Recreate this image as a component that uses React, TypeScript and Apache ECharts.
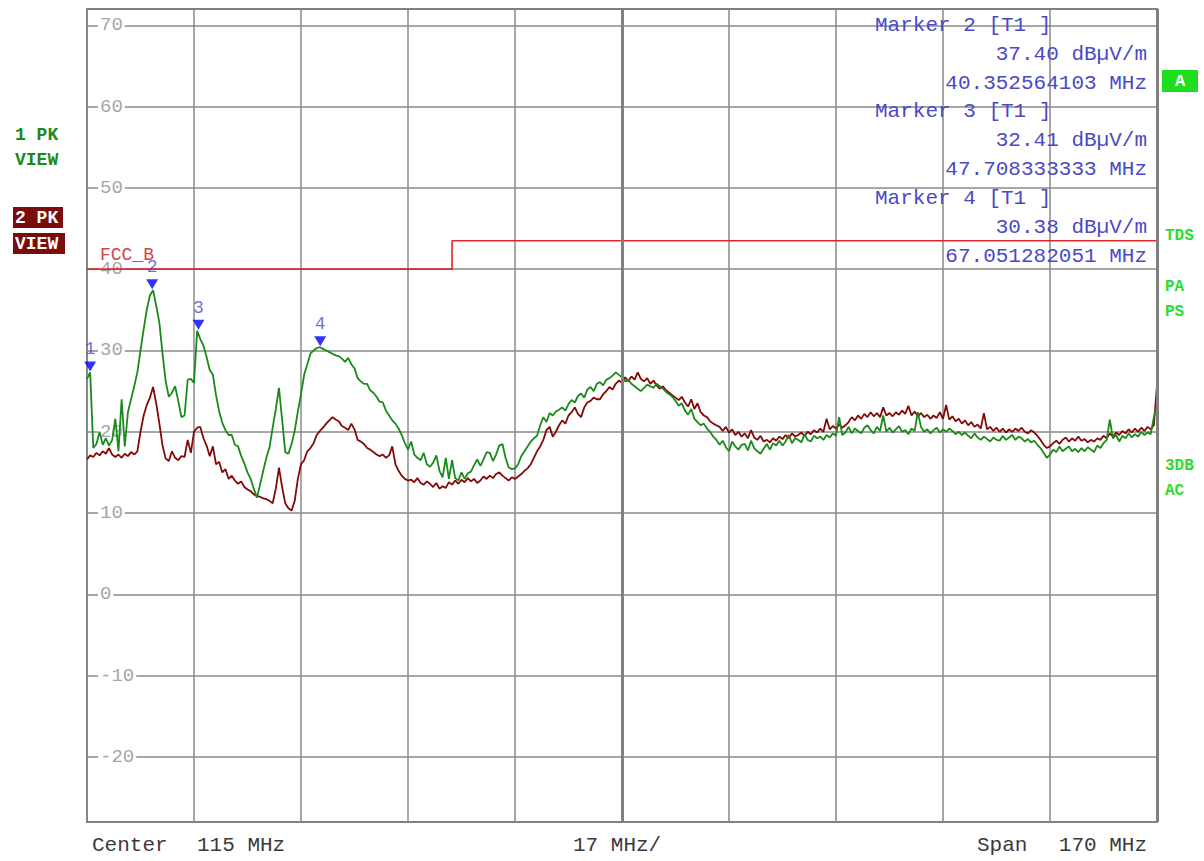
import React, { useEffect, useRef } from "react";
import * as echarts from "echarts";

// Sweep: 30 MHz .. 200 MHz (Center 115 MHz, Span 170 MHz), sampled every 0.5 MHz
const FREQ_START = 30;
const FREQ_STEP = 0.5;
const CENTER_MHZ = 115;
const SPAN_MHZ = 170;
const DIV_MHZ = 17;

// Trace 1 (PK, green), dBµV/m
const TRACE1 = [
  26.5, 27.3, 18.0, 18.5, 20.0, 18.4, 19.2, 18.3, 19.0, 21.6, 17.6, 24.0, 18.2, 22.4, 24.0, 25.6, 27.3, 30.0, 32.6, 35.0,
  36.8, 37.4, 35.5, 33.4, 29.6, 26.2, 24.3, 24.8, 25.6, 23.8, 21.8, 22.0, 26.4, 26.5, 26.0, 32.4, 31.4, 30.6, 29.2, 27.6,
  27.0, 24.5, 22.5, 21.1, 20.2, 19.6, 19.6, 18.4, 18.2, 17.0, 16.1, 15.0, 14.2, 13.0, 11.9, 13.5, 15.2, 16.8, 18.1, 20.5,
  22.8, 25.4, 21.5, 17.5, 17.3, 18.5, 20.1, 22.5, 24.6, 27.0, 28.3, 29.6, 30.0, 30.3, 30.4, 30.2, 30.0, 29.8, 29.6, 29.4,
  29.3, 29.0, 28.6, 29.1, 28.3, 27.8, 26.6, 26.2, 25.9, 25.9, 25.1, 24.8, 24.3, 23.7, 23.6, 22.6, 22.0, 21.4, 21.0, 20.4,
  19.6, 18.6, 17.8, 18.8, 17.2, 16.8, 16.5, 17.4, 16.0, 15.7, 16.2, 17.1, 15.2, 14.4, 16.8, 14.2, 16.5, 14.3, 14.0, 15.0,
  14.2, 14.9, 15.1, 15.9, 16.6, 15.8, 16.6, 17.5, 17.4, 16.4, 17.2, 18.3, 18.5, 16.8, 15.6, 15.4, 15.5, 16.0, 17.0, 17.6,
  18.2, 18.8, 19.2, 19.5, 20.8, 21.8, 21.2, 22.3, 22.0, 22.5, 22.7, 23.0, 22.6, 23.4, 23.9, 23.6, 24.4, 24.7, 24.2, 25.2,
  25.5, 25.0, 25.9, 26.1, 25.7, 26.4, 26.6, 26.9, 27.3, 27.0, 26.7, 26.2, 26.4, 25.9, 25.6, 25.3, 25.0, 25.4, 25.8, 25.6,
  25.4, 25.9, 25.6, 25.3, 24.9, 24.6, 24.3, 23.8, 23.2, 23.5, 22.6, 22.1, 22.8, 21.6, 21.2, 20.8, 21.0, 20.4, 20.0, 19.4,
  19.0, 18.4, 18.9, 18.1, 17.6, 18.8, 18.2, 17.8, 18.4, 18.5, 17.7, 18.9, 18.0, 17.6, 17.3, 17.9, 18.5, 17.8, 18.6, 18.3,
  18.9, 18.3, 18.8, 19.6, 18.6, 19.2, 19.0, 18.7, 19.7, 19.0, 18.8, 19.5, 19.2, 19.4, 19.0, 19.6, 19.3, 19.8, 19.5, 21.8,
  19.6, 19.9, 20.6, 19.8, 20.4, 20.1, 19.8, 20.5, 20.8, 20.2, 19.8, 20.6, 20.1, 22.0, 20.0, 20.5, 19.9, 20.3, 20.7, 20.0,
  20.2, 19.7, 20.4, 20.1, 22.4, 20.6, 20.0, 20.3, 19.8, 20.2, 20.5, 19.9, 20.3, 20.0, 20.4, 20.1, 19.7, 20.0, 19.6, 19.9,
  19.5, 19.2, 19.8, 19.3, 19.0, 19.4, 19.1, 18.8, 19.3, 19.0, 18.9, 19.5, 19.0, 19.3, 19.6, 19.0, 19.4, 19.2, 18.8, 19.1,
  18.7, 18.9, 18.4, 18.0, 17.4, 16.8, 17.2, 17.8, 17.5, 18.2, 17.6, 17.9, 18.2, 17.6, 17.9, 17.5, 18.0, 17.6, 18.1, 17.8,
  17.5, 18.3, 18.0, 18.6, 19.0, 21.5, 19.2, 19.6, 18.8, 19.5, 19.2, 19.8, 19.3, 19.7, 19.4, 20.0, 19.6, 19.9, 19.7, 21.8,
  23.2,
];

// Trace 2 (PK, dark red), dBµV/m
const TRACE2 = [
  16.6, 17.1, 16.9, 17.4, 17.1, 17.6, 17.3, 18.0, 17.2, 16.9, 17.2, 16.8, 17.3, 17.0, 17.5, 17.2, 17.6, 20.0, 22.0, 23.3,
  24.2, 25.5, 23.5, 21.0, 18.3, 16.7, 16.4, 17.6, 16.8, 16.5, 17.0, 16.9, 19.0, 17.4, 20.0, 20.5, 20.6, 19.2, 18.3, 17.0,
  18.2, 16.0, 16.3, 15.0, 15.4, 14.2, 14.6, 14.0, 13.6, 13.9, 13.2, 12.9, 12.7, 12.3, 12.1, 12.0, 11.8, 11.7, 11.5, 11.2,
  13.0, 15.6, 13.2, 11.2, 10.6, 10.3, 11.5, 14.2, 16.0, 16.5, 17.6, 18.0, 18.6, 19.6, 20.1, 20.5, 21.0, 21.4, 21.8, 21.5,
  21.3, 20.7, 20.5, 20.2, 21.0, 20.3, 19.0, 18.8, 18.5, 18.0, 17.8, 17.5, 17.2, 17.0, 17.2, 16.8, 17.1, 18.2, 16.0, 15.2,
  14.6, 14.2, 14.0, 14.1, 13.8, 14.3, 13.7, 13.5, 13.9, 13.6, 13.2, 13.7, 13.0, 13.3, 13.1, 13.8, 13.5, 14.0, 13.6, 14.1,
  13.8, 14.3, 13.9, 14.2, 13.7, 14.0, 14.5, 14.2, 14.6, 14.3, 14.8, 15.0, 14.6, 14.3, 14.0, 14.4, 14.2, 14.5, 14.8, 15.2,
  15.5, 16.0, 16.8, 17.6, 18.2, 19.0, 20.2, 20.6, 19.4, 20.0, 20.8, 21.4, 21.0, 22.0, 22.4, 23.0, 22.2, 21.8, 23.0, 23.6,
  23.8, 24.2, 24.0, 24.0, 24.6, 25.0, 25.5, 25.2, 25.9, 26.3, 26.0, 26.7, 26.2, 26.8, 26.4, 27.3, 26.5, 26.2, 26.6, 25.9,
  26.3, 25.7, 25.3, 25.6, 25.1, 24.8, 24.5, 24.2, 23.9, 24.3, 23.6, 23.1, 24.0, 22.8, 23.5, 22.4, 22.0, 21.8, 21.3, 21.0,
  20.8, 20.6, 20.1, 20.6, 19.9, 20.3, 19.6, 20.0, 19.4, 19.8, 19.2, 20.2, 19.3, 19.0, 19.5, 18.8, 19.0, 18.7, 19.2, 18.9,
  19.4, 19.1, 19.6, 19.2, 19.8, 19.4, 19.6, 19.9, 19.5, 20.0, 19.7, 20.2, 19.9, 20.4, 20.0, 21.6, 20.3, 20.7, 20.4, 20.9,
  20.5, 20.8, 21.2, 21.8, 21.4, 22.0, 21.6, 22.2, 21.8, 22.4, 21.9, 22.3, 21.8, 23.0, 22.0, 22.3, 21.9, 22.4, 22.1, 22.6,
  22.2, 23.2, 22.0, 22.5, 21.9, 22.3, 21.8, 22.1, 21.6, 22.0, 21.7, 22.4, 21.6, 23.3, 21.5, 21.9, 21.3, 21.6, 21.0, 21.4,
  20.8, 21.2, 20.6, 20.9, 20.4, 22.3, 20.3, 20.6, 20.1, 20.5, 20.0, 20.4, 19.9, 20.3, 20.0, 20.4, 20.1, 20.5, 20.0, 19.8,
  20.2, 19.9, 19.5, 19.0, 18.4, 18.0, 18.2, 18.6, 18.9, 18.5, 19.0, 19.3, 18.8, 19.2, 18.9, 19.4, 18.9, 19.1, 18.7, 19.0,
  18.8, 19.2, 19.0, 19.5, 19.2, 19.8, 19.4, 19.9, 19.6, 20.1, 19.8, 20.3, 19.9, 20.4, 20.0, 20.5, 20.1, 20.6, 20.3, 20.8,
  25.7,
];

// FCC class B limit line
const LIMIT_FREQ = [30, 88, 88, 200];
const LIMIT_LEVEL = [40, 40, 43.5, 43.5];
const LIMIT_NAME = "FCC_B";

// Axes
const Y_MIN = -28;
const Y_MAX = 72;
const Y_TICKS = [-20, -10, 0, 10, 20, 30, 40, 50, 60, 70];
const X_TICKS = [30, 47, 64, 81, 98, 115, 132, 149, 166, 183, 200];

// Markers
const MARKER_ID = ["1", "2", "3", "4"];
const MARKER_FREQ = [30.5, 40.352564103, 47.708333333, 67.051282051];
const MARKER_LEVEL = [27.3, 37.4, 32.41, 30.38];
const MARKER_INFO = [1, 2, 3];

const MONO = '"Liberation Mono", "DejaVu Sans Mono", monospace';

function txt(x: number, y: number, text: string, fill: string, size: number, opts: any = {}) {
  return {
    type: "text",
    x,
    y,
    silent: true,
    z: 100,
    style: {
      text,
      fill,
      fontSize: size,
      fontFamily: MONO,
      fontWeight: opts.bold ? "bold" : "normal",
      align: opts.align || "left",
      verticalAlign: "middle",
    },
  };
}

export default function App() {
  const ref = useRef<HTMLDivElement>(null);

  useEffect(() => {
    if (!ref.current) return;
    const chart = echarts.init(ref.current, undefined, { renderer: "svg" });

    const toPairs = (arr: number[]) => arr.map((v, i) => [FREQ_START + i * FREQ_STEP, v]);
    const limitData = LIMIT_FREQ.map((f, i) => [f, LIMIT_LEVEL[i]]);
    const markerData = MARKER_FREQ.map((f, i) => [f, MARKER_LEVEL[i]]);

    const infoColor = "#4a4ac6";
    const graphics: any[] = [];
    // marker info block
    MARKER_INFO.forEach((mi, k) => {
      const y0 = 25 + k * 86.6;
      graphics.push(txt(875, y0, `Marker ${MARKER_ID[mi]} [T1 ]`, infoColor, 21));
      graphics.push(txt(1147, y0 + 29, `${MARKER_LEVEL[mi].toFixed(2)} dBµV/m`, infoColor, 21, { align: "right" }));
      graphics.push(txt(1147, y0 + 58, `${MARKER_FREQ[mi].toFixed(9)} MHz`, infoColor, 21, { align: "right" }));
    });
    // left trace labels
    graphics.push(txt(15, 135, "1 PK", "#1a8a1a", 18, { bold: true }));
    graphics.push(txt(15, 160, "VIEW", "#1a8a1a", 18, { bold: true }));
    graphics.push({ type: "rect", shape: { x: 13, y: 207, width: 50, height: 21 }, style: { fill: "#7a0c0c" }, z: 99, silent: true });
    graphics.push({ type: "rect", shape: { x: 13, y: 233, width: 52, height: 21 }, style: { fill: "#7a0c0c" }, z: 99, silent: true });
    graphics.push(txt(15, 218, "2 PK", "#ffffff", 18, { bold: true }));
    graphics.push(txt(15, 244, "VIEW", "#ffffff", 18, { bold: true }));
    // right status labels
    graphics.push({ type: "rect", shape: { x: 1162, y: 70, width: 36, height: 22 }, style: { fill: "#1fde1f" }, z: 99, silent: true });
    graphics.push(txt(1180, 81, "A", "#ffffff", 17, { bold: true, align: "center" }));
    const rc = "#2edc2e";
    graphics.push(txt(1165, 236, "TDS", rc, 16, { bold: true }));
    graphics.push(txt(1165, 287, "PA", rc, 16, { bold: true }));
    graphics.push(txt(1165, 312, "PS", rc, 16, { bold: true }));
    graphics.push(txt(1165, 466, "3DB", rc, 16, { bold: true }));
    graphics.push(txt(1165, 491, "AC", rc, 16, { bold: true }));
    // limit name
    graphics.push(txt(100, 255, LIMIT_NAME, "#d24848", 18));
    // bottom annotation
    const bc = "#3a3a3a";
    graphics.push(txt(92, 845, "Center", bc, 21));
    graphics.push(txt(197, 845, `${CENTER_MHZ} MHz`, bc, 21));
    graphics.push(txt(573, 845, `${DIV_MHZ} MHz/`, bc, 21));
    graphics.push(txt(977, 845, "Span", bc, 21));
    graphics.push(txt(1147, 845, `${SPAN_MHZ} MHz`, bc, 21, { align: "right" }));

    chart.setOption({
      animation: false,
      backgroundColor: "#ffffff",
      grid: {
        left: 87,
        right: 47,
        top: 9,
        bottom: 39,
        show: true,
        borderColor: "#808080",
        borderWidth: 2,
        backgroundColor: "#ffffff",
      },
      xAxis: {
        type: "value",
        min: FREQ_START,
        max: 200,
        axisLine: { show: false },
        axisTick: { show: false, customValues: X_TICKS },
        axisLabel: { show: false, customValues: X_TICKS },
        splitLine: { show: true, lineStyle: { color: "#8a8a8a", width: 1.5 } },
      },
      yAxis: {
        type: "value",
        min: Y_MIN,
        max: Y_MAX,
        axisLine: { show: false },
        axisTick: { show: false, customValues: Y_TICKS },
        axisLabel: {
          show: true,
          inside: true,
          customValues: Y_TICKS,
          margin: 11,
          color: "#a6a6a6",
          fontFamily: MONO,
          fontSize: 19,
          backgroundColor: "#ffffff",
          padding: [0, 2, 0, 2],
          showMinLabel: true,
          showMaxLabel: true,
        },
        splitLine: { show: true, lineStyle: { color: "#8a8a8a", width: 1.5 } },
      },
      series: [
        {
          name: "limit",
          type: "line",
          data: limitData,
          symbol: "none",
          silent: true,
          z: 2,
          lineStyle: { color: "#e3262b", width: 1.6 },
          markLine: {
            silent: true,
            symbol: ["none", "none"],
            label: { show: false },
            lineStyle: { color: "#808080", width: 3, type: "solid" },
            data: [{ xAxis: CENTER_MHZ }, { xAxis: 200 }],
          },
        },
        {
          name: "2 PK",
          type: "line",
          data: toPairs(TRACE2),
          symbol: "none",
          silent: true,
          z: 3,
          lineStyle: { color: "#840a0a", width: 1.8 },
        },
        {
          name: "1 PK",
          type: "line",
          data: toPairs(TRACE1),
          symbol: "none",
          silent: true,
          z: 4,
          lineStyle: { color: "#1a8a1a", width: 1.8 },
        },
        {
          name: "markers",
          type: "scatter",
          data: markerData,
          symbol: "triangle",
          symbolRotate: 180,
          symbolSize: [12, 10],
          symbolOffset: [0, -6],
          silent: true,
          z: 6,
          itemStyle: { color: "#0000ff" },
          label: {
            show: true,
            position: "top",
            distance: 3,
            color: "#4a4ac6",
            fontFamily: MONO,
            fontSize: 18,
            formatter: (p: any) => MARKER_ID[p.dataIndex],
          },
        },
      ],
      graphic: graphics,
    });

    return () => chart.dispose();
  }, []);

  return (
    <div
      ref={ref}
      style={{ position: "absolute", left: 0, top: 0, width: 1204, height: 861, background: "#fff" }}
    />
  );
}
